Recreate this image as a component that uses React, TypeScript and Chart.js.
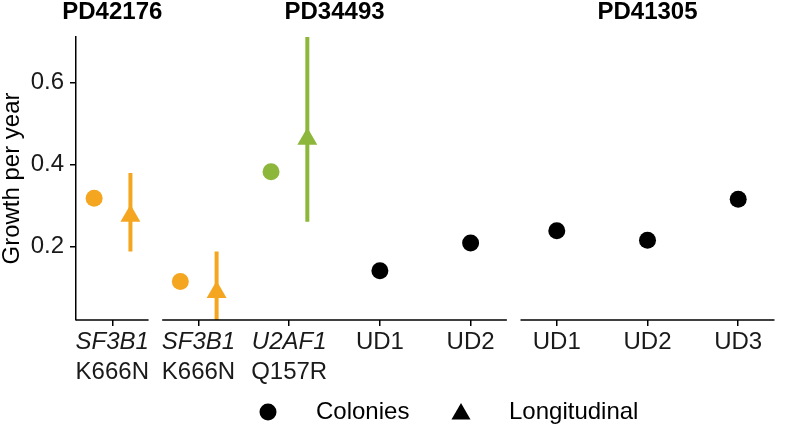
import React, { useEffect, useRef } from "react";
import { Chart, registerables } from "chart.js";

Chart.register(...registerables);

// ---- data ----
const panelNames = ["PD42176", "PD34493", "PD41305"];
const panelCounts = [1, 4, 3];
const geneLabels = ["SF3B1", "SF3B1", "U2AF1", "UD1", "UD2", "UD1", "UD2", "UD3"];
const variantLabels = ["K666N", "K666N", "Q157R", "", "", "", "", ""];
const italicGene = [true, true, true, false, false, false, false, false];
const groupColors = ["#F4A620", "#F4A620", "#8DB73B", "#000000", "#000000", "#000000", "#000000", "#000000"];
const colonyGrowth = [0.318, 0.115, 0.383, 0.141, 0.209, 0.239, 0.216, 0.316];
const longitudinalGrowth = [0.275, 0.089, 0.463, null, null, null, null, null];
const longitudinalLow = [0.188, 0.02, 0.261, null, null, null, null, null];
const longitudinalHigh = [0.38, 0.188, 0.712, null, null, null, null, null];
const yTicks = [0.2, 0.4, 0.6];
const legendLabels = ["Colonies", "Longitudinal"];

const FONT = "'Liberation Sans', Arial, Helvetica, sans-serif";
const EXPAND = 0.4;
const GAP = 0.15;
const DODGE = 0.2;

// category positions on a continuous x scale (facet layout)
const catPos: number[] = [];
const panelRanges: [number, number][] = [];
{
  let x = 0;
  let idx = 0;
  panelCounts.forEach((n, p) => {
    if (p > 0) x += 2 * EXPAND + GAP;
    const first = x;
    for (let k = 0; k < n; k++) {
      catPos.push(x);
      idx++;
      if (k < n - 1) x += 1;
    }
    panelRanges.push([first - EXPAND, x + EXPAND]);
  });
}
const xMin = panelRanges[0][0];
const xMax = panelRanges[panelRanges.length - 1][1];

export default function App() {
  const ref = useRef<HTMLCanvasElement | null>(null);

  useEffect(() => {
    document.body.style.margin = "0";
    const canvas = ref.current;
    if (!canvas) return;

    const hasLong = (i: number) => longitudinalGrowth[i] !== null;

    const colonyData = colonyGrowth.map((v, i) => ({ x: catPos[i] - (hasLong(i) ? DODGE : 0), y: v }));
    const longIdx = longitudinalGrowth.map((v, i) => i).filter((i) => hasLong(i));
    const longData = longIdx.map((i) => ({ x: catPos[i] + DODGE, y: longitudinalGrowth[i] as number }));

    const errorSets: any[] = longIdx.map((i) => ({
      type: "line",
      data: [
        { x: catPos[i] + DODGE, y: longitudinalLow[i] },
        { x: catPos[i] + DODGE, y: longitudinalHigh[i] },
      ],
      borderColor: groupColors[i],
      borderWidth: 4,
      borderCapStyle: "butt",
      pointRadius: 0,
      showLine: true,
      order: 3,
    }));

    const facetPlugin = {
      id: "facets",
      afterDraw(chart: any) {
        const { ctx, chartArea, scales } = chart;
        const xs = scales.x;
        ctx.save();
        ctx.strokeStyle = "#000";
        ctx.lineWidth = 1.5;
        panelRanges.forEach(([a, b], p) => {
          const l = xs.getPixelForValue(a);
          const r = xs.getPixelForValue(b);
          ctx.beginPath();
          ctx.moveTo(l, chartArea.bottom);
          ctx.lineTo(r, chartArea.bottom);
          ctx.stroke();
          ctx.fillStyle = "#000";
          ctx.font = `bold 24px ${FONT}`;
          ctx.textAlign = "center";
          ctx.textBaseline = "alphabetic";
          ctx.fillText(panelNames[p], (l + r) / 2, 19);
        });
        // legend
        const ly = 412;
        ctx.fillStyle = "#000";
        ctx.beginPath();
        ctx.arc(268, ly, 8.5, 0, Math.PI * 2);
        ctx.fill();
        const tr = 11;
        const tx = 461;
        const tyc = ly + 2;
        ctx.beginPath();
        ctx.moveTo(tx, tyc - tr);
        ctx.lineTo(tx + tr * Math.cos(Math.PI / 6), tyc + tr / 2);
        ctx.lineTo(tx - tr * Math.cos(Math.PI / 6), tyc + tr / 2);
        ctx.closePath();
        ctx.fill();
        ctx.font = `24px ${FONT}`;
        ctx.textAlign = "left";
        ctx.textBaseline = "middle";
        ctx.fillStyle = "#000";
        ctx.fillText(legendLabels[0], 316, ly);
        ctx.fillText(legendLabels[1], 509, ly);
        ctx.restore();
      },
    };

    const chart = new Chart(canvas, {
      type: "scatter",
      data: {
        datasets: [
          {
            label: legendLabels[1],
            data: longData,
            pointStyle: "triangle",
            pointRadius: 11.5,
            pointHoverRadius: 11.5,
            pointBorderWidth: 0,
            pointBackgroundColor: longIdx.map((i) => groupColors[i]),
            pointBorderColor: longIdx.map((i) => groupColors[i]),
            order: 1,
          } as any,
          {
            label: legendLabels[0],
            data: colonyData,
            pointStyle: "circle",
            pointRadius: 8.5,
            pointHoverRadius: 8.5,
            pointBorderWidth: 0,
            pointBackgroundColor: groupColors,
            pointBorderColor: groupColors,
            order: 2,
          } as any,
          ...errorSets,
        ],
      },
      options: {
        responsive: false,
        animation: false,
        events: [],
        layout: { padding: { top: 37, bottom: 42, left: 0, right: 0 } },
        plugins: { legend: { display: false }, tooltip: { enabled: false } },
        scales: {
          x: {
            type: "linear",
            position: "bottom",
            min: xMin,
            max: xMax,
            afterBuildTicks: (s: any) => {
              s.ticks = catPos.map((v) => ({ value: v }));
            },
            afterFit: (s: any) => {
              s.height = 30;
            },
            ticks: {
              autoSkip: false,
              maxRotation: 0,
              padding: 2,
              color: "#1a1a1a",
              font: (c: any) => ({ family: FONT, size: 24, style: italicGene[c.index] ? "italic" : "normal" }),
              callback: (_v: any, i: number) => geneLabels[i],
            },
            grid: { display: true, drawOnChartArea: false, drawTicks: true, tickLength: 6, color: "#000", lineWidth: 1.5 },
            border: { display: false },
          },
          x2: {
            type: "linear",
            position: "bottom",
            min: xMin,
            max: xMax,
            afterBuildTicks: (s: any) => {
              s.ticks = catPos.map((v) => ({ value: v }));
            },
            afterFit: (s: any) => {
              s.height = 36;
            },
            ticks: {
              autoSkip: false,
              maxRotation: 0,
              padding: 8,
              color: "#1a1a1a",
              font: { family: FONT, size: 24 },
              callback: (_v: any, i: number) => variantLabels[i],
            },
            grid: { display: false, drawTicks: false },
            border: { display: false },
          },
          y: {
            type: "linear",
            min: 0.021,
            max: 0.712,
            afterBuildTicks: (s: any) => {
              s.ticks = yTicks.map((v) => ({ value: v }));
            },
            afterFit: (s: any) => {
              s.width = 76;
            },
            ticks: {
              padding: 6,
              color: "#1a1a1a",
              font: { family: FONT, size: 24 },
              callback: (v: any) => Number(v).toFixed(1),
            },
            grid: { display: true, drawOnChartArea: false, drawTicks: true, tickLength: 6, color: "#000", lineWidth: 1.5 },
            border: { display: true, color: "#000", width: 1.5 },
            title: {
              display: true,
              text: "Growth per year",
              color: "#000",
              font: { family: FONT, size: 24, lineHeight: 1 },
              padding: 0,
            },
          },
        },
      } as any,
      plugins: [facetPlugin],
    });

    return () => chart.destroy();
  }, []);

  return (
    <div style={{ width: 786, height: 428, position: "relative" }}>
      <canvas ref={ref} width={786} height={428} style={{ width: 786, height: 428, display: "block" }} />
    </div>
  );
}
